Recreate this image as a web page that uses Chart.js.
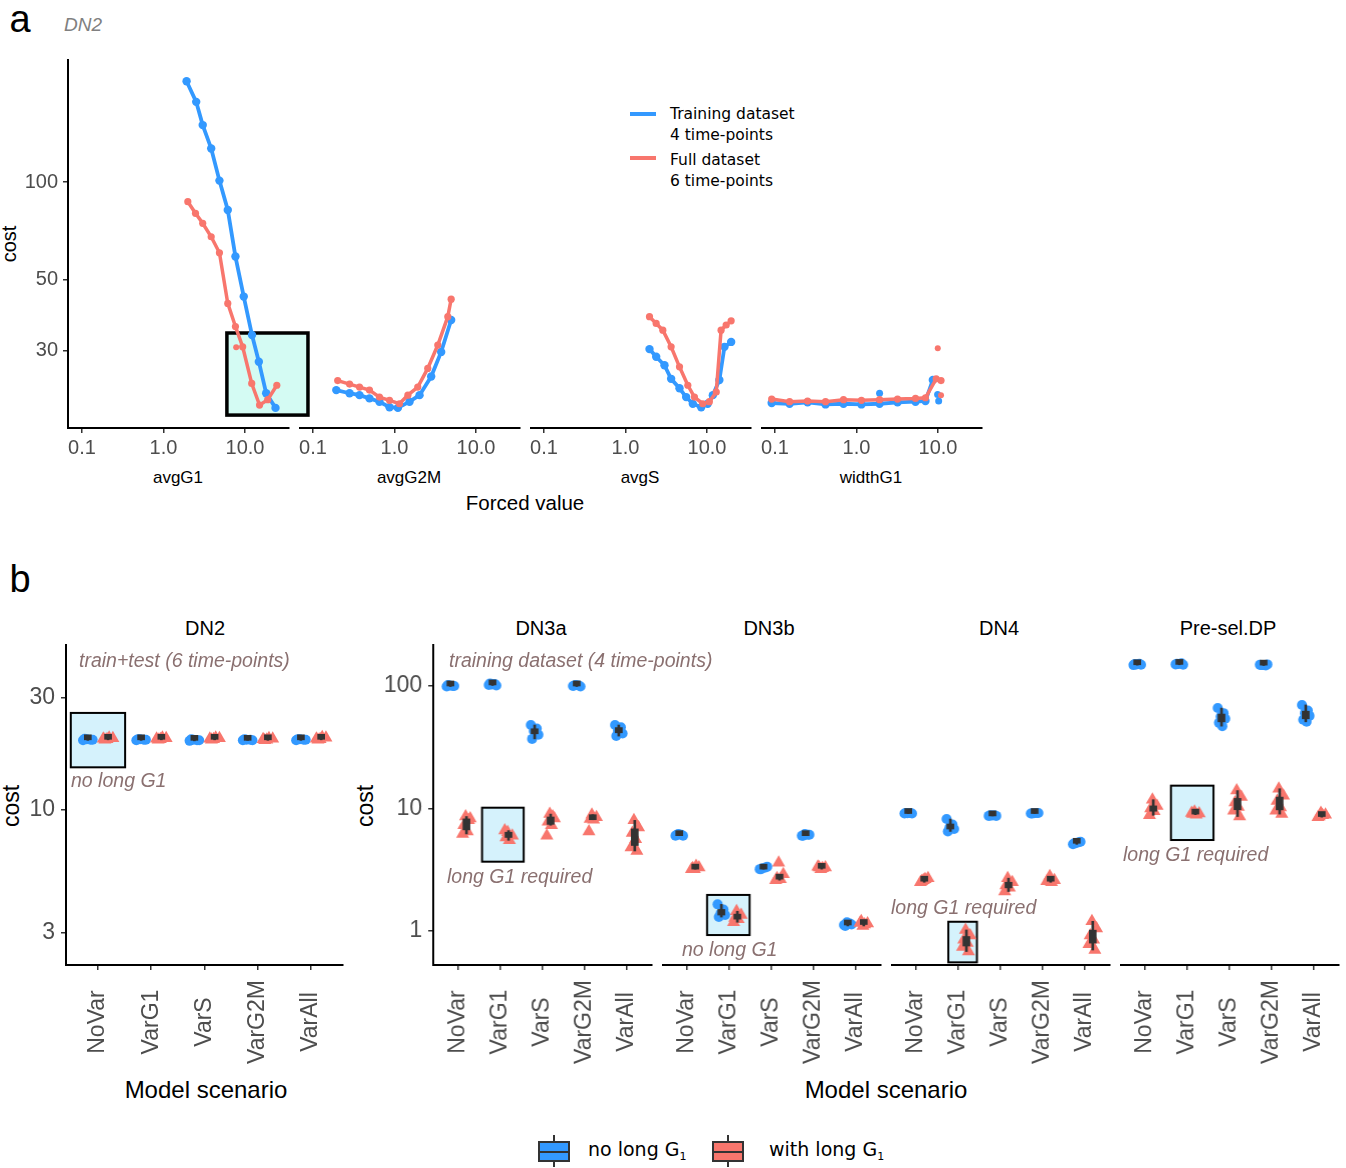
<!DOCTYPE html>
<html>
<head>
<meta charset="utf-8">
<script src="https://cdn.jsdelivr.net/npm/chart.js@4.4.1/dist/chart.umd.min.js"></script>
<style>
  html, body { margin: 0; padding: 0; background: #fff; }
  #root { position: relative; width: 1346px; height: 1168px; overflow: hidden; font-family: 'Liberation Sans', Arial, sans-serif; }
  #root canvas { position: absolute; }
  .t { position: absolute; white-space: nowrap; line-height: 1; color: #000; }
  .c { transform: translate(-50%, -50%); }
  .l { transform: translate(0, -50%); }
  .v { transform: translate(-50%, -50%) rotate(-90deg); }
  .note { font-style: italic; color: #8a7070; font-size: 19.5px; }
  .leg { font-family: 'DejaVu Sans', sans-serif; }
  .blk { position: absolute; }
</style>
</head>
<body>
<div id="root">
  <!-- panel a texts -->
  <div class="t c" style="left:20px;top:19px;font-size:38px">a</div>
  <div class="t c" style="left:83px;top:24px;font-size:19px;font-style:italic;color:#808080">DN2</div>
  <div class="t v" style="left:9px;top:244px;font-size:20px">cost</div>
  <div class="t c" style="left:178px;top:477px;font-size:17px">avgG1</div>
  <div class="t c" style="left:409px;top:477px;font-size:17px">avgG2M</div>
  <div class="t c" style="left:640px;top:477px;font-size:17px">avgS</div>
  <div class="t c" style="left:871px;top:477px;font-size:17px">widthG1</div>
  <div class="t c" style="left:525px;top:503px;font-size:20.5px">Forced value</div>

  <div class="blk" style="left:630px;top:112px;width:26px;height:4px;background:#3399ff"></div>
  <div class="blk" style="left:630px;top:156px;width:26px;height:4px;background:#f8766d"></div>
  <div class="t l leg" style="left:670px;top:115px;font-size:15.5px">Training dataset</div>
  <div class="t l leg" style="left:670px;top:136px;font-size:15.5px">4 time-points</div>
  <div class="t l leg" style="left:670px;top:161px;font-size:15.5px">Full dataset</div>
  <div class="t l leg" style="left:670px;top:182px;font-size:15.5px">6 time-points</div>

  <!-- panel b texts -->
  <div class="t c" style="left:20px;top:579px;font-size:38px">b</div>
  <div class="t c" style="left:205px;top:628px;font-size:20px">DN2</div>
  <div class="t c" style="left:541px;top:628px;font-size:20px">DN3a</div>
  <div class="t c" style="left:769px;top:628px;font-size:20px">DN3b</div>
  <div class="t c" style="left:999px;top:628px;font-size:20px">DN4</div>
  <div class="t c" style="left:1228px;top:628px;font-size:20px">Pre-sel.DP</div>
  <div class="t v" style="left:11px;top:806px;font-size:23px">cost</div>
  <div class="t v" style="left:365px;top:806px;font-size:23px">cost</div>
  <div class="t c" style="left:206px;top:1090px;font-size:24px">Model scenario</div>
  <div class="t c" style="left:886px;top:1090px;font-size:24px">Model scenario</div>

  <!-- legend b -->
  <div class="blk" style="left:553px;top:1135px;width:2px;height:32px;background:#333"></div>
  <div class="blk" style="left:538px;top:1141px;width:32px;height:21px;box-sizing:border-box;border:2.5px solid #333;background:#3399ff"></div>
  <div class="blk" style="left:538px;top:1150.5px;width:32px;height:2.5px;background:#333"></div>
  <div class="t l leg" style="left:588px;top:1151px;font-size:19px">no long G<sub style="font-size:11px">1</sub></div>
  <div class="blk" style="left:727px;top:1135px;width:2px;height:32px;background:#333"></div>
  <div class="blk" style="left:712px;top:1141px;width:32px;height:21px;box-sizing:border-box;border:2.5px solid #333;background:#f8766d"></div>
  <div class="blk" style="left:712px;top:1150.5px;width:32px;height:2.5px;background:#333"></div>
  <div class="t l leg" style="left:769px;top:1151px;font-size:19px">with long G<sub style="font-size:11px">1</sub></div>
</div>

<script>
// ---------------- panel a: cost against the forced parameter value ----------------
const xTicksA = [0.1, 1, 10];
const yTicksA = [30, 50, 100];

const avgG1TrainX = [1.92, 2.52, 3.03, 3.85, 4.86, 6.15, 7.64, 9.66, 12.2, 14.8, 18.2, 23.7];
const avgG1TrainY = [205, 177, 150, 127, 101, 81.9, 58.8, 44.2, 33.6, 27.8, 22.2, 20.0];
const avgG1FullX  = [1.99, 2.47, 3.03, 3.85, 4.86, 6.15, 7.64, 9.37, 12.1, 15.1, 19.0, 24.6];
const avgG1FullY  = [86.9, 80.0, 74.5, 67.7, 60.4, 42.1, 35.7, 30.9, 23.8, 20.4, 21.2, 23.5];
const avgG1FullExtraX = [7.8];
const avgG1FullExtraY = [30.8];

const avgG2MTrainX = [0.193, 0.281, 0.372, 0.493, 0.654, 0.869, 1.10, 1.53, 2.03, 2.82, 3.74, 4.96];
const avgG2MTrainY = [22.7, 22.2, 21.9, 21.4, 20.9, 20.1, 20.0, 20.9, 21.9, 25.0, 29.8, 37.4];
const avgG2MFullX  = [0.201, 0.281, 0.372, 0.493, 0.654, 0.869, 1.15, 1.46, 1.93, 2.56, 3.40, 4.51, 4.96];
const avgG2MFullY  = [24.3, 23.7, 23.2, 22.7, 21.6, 21.1, 20.6, 21.9, 23.2, 26.5, 31.3, 38.3, 43.4];

const avgSTrainX = [1.97, 2.38, 3.01, 3.63, 4.60, 5.55, 6.70, 8.49, 10.2, 11.8, 14.2, 16.4, 19.8];
const avgSTrainY = [30.4, 28.8, 27.1, 24.6, 23.0, 21.6, 20.6, 20.1, 20.6, 21.9, 24.4, 30.9, 32.0];
const avgSFullX  = [1.97, 2.38, 2.87, 3.63, 4.60, 5.82, 7.02, 8.88, 10.7, 13.0, 14.9, 17.2, 19.8];
const avgSFullY  = [38.3, 36.5, 34.8, 30.9, 26.8, 23.5, 21.6, 20.6, 20.9, 22.4, 34.8, 36.1, 37.2];

const widthG1TrainX = [0.091, 0.151, 0.251, 0.417, 0.693, 1.15, 1.92, 3.19, 5.30, 7.02, 8.65];
const widthG1TrainY = [20.7, 20.6, 20.8, 20.5, 20.6, 20.5, 20.6, 20.8, 20.9, 21.0, 24.4];
const widthG1TrainExtraX = [1.92, 9.9, 10.2];
const widthG1TrainExtraY = [22.2, 22.0, 21.0];
const widthG1FullX  = [0.091, 0.151, 0.251, 0.417, 0.693, 1.15, 1.92, 3.19, 5.30, 7.02, 9.5, 10.9];
const widthG1FullY  = [21.3, 20.9, 21.0, 20.9, 21.2, 21.1, 21.2, 21.3, 21.4, 21.5, 24.6, 24.3];
const widthG1FullExtraX = [9.94, 10.9];
const widthG1FullExtraY = [30.6, 21.9];

// ---------------- panel b: cost per model scenario ----------------
const scenarios = ['NoVar', 'VarG1', 'VarS', 'VarG2M', 'VarAll'];
const ticksDN2 = [3, 10, 30];
const ticksGroup = [1, 10, 100];

const dn2NoLong   = [[19.8, 19.9, 20.0, 19.9, 20.1], [19.8, 19.9, 20.0, 19.9, 20.0], [19.7, 19.8, 19.9, 19.8, 20.0], [19.8, 19.9, 19.9, 19.8, 20.0], [19.8, 19.9, 20.0, 19.9, 20.0]];
const dn2WithLong = [[20.0, 20.2, 19.9, 20.3, 20.1], [20.0, 20.2, 19.9, 20.3, 20.1], [20.0, 20.2, 19.9, 20.3, 20.1], [19.9, 20.1, 19.8, 20.2, 20.0], [20.0, 20.3, 19.9, 20.4, 20.1]];

const dn3aNoLong   = [[99, 100, 101, 100, 102], [102, 104, 103, 101, 105], [48, 45, 43, 40, 37, 44], [100, 101, 102, 99, 101], [48, 46, 43, 41, 39, 45]];
const dn3aWithLong = [[8.6, 8.3, 7.3, 6.5, 6.2, 8.0], [6.4, 6.0, 5.8, 5.5, 6.6], [9.0, 8.3, 7.8, 7.3, 6.0, 8.6], [8.9, 8.5, 8.2, 8.1, 6.5], [8.0, 7.0, 6.3, 5.6, 4.8, 4.5]];

const dn3bNoLong   = [[6.0, 6.1, 6.2, 6.0, 6.1], [1.65, 1.5, 1.38, 1.35, 1.3], [3.2, 3.3, 3.25, 3.35, 3.2], [6.0, 6.1, 6.2, 6.1, 6.0], [1.12, 1.15, 1.18, 1.13, 1.1]];
const dn3bWithLong = [[3.2, 3.3, 3.25, 3.4, 3.2], [1.45, 1.35, 1.28, 1.25, 1.18], [3.6, 2.9, 2.7, 2.65, 2.6], [3.2, 3.3, 3.3, 3.25, 3.35], [1.1, 1.15, 1.2, 1.13, 1.16]];

const dn4NoLong   = [[9.1, 9.2, 9.15, 9.1, 9.2], [8.2, 7.4, 7.0, 6.8, 6.5], [8.7, 8.8, 8.75, 8.7, 8.8], [9.1, 9.2, 9.15, 9.2, 9.1], [5.1, 5.3, 5.2, 5.35, 5.2]];
const dn4WithLong = [[2.6, 2.7, 2.55, 2.65, 2.5], [1.02, 0.92, 0.85, 0.8, 0.74, 0.68], [2.7, 2.5, 2.35, 2.25, 2.1], [2.8, 2.6, 2.55, 2.5, 2.55], [1.2, 1.05, 0.92, 0.85, 0.78, 0.7]];

const preselNoLong   = [[148, 152, 150, 149, 151], [150, 153, 151, 149, 152], [66, 60, 56, 54, 50, 47], [149, 147, 148, 150, 148], [70, 63, 60, 57, 53, 51]];
const preselWithLong = [[11.8, 10.5, 10.0, 9.5, 8.8], [9.4, 9.1, 9.0, 8.9, 9.2], [14, 12.4, 11.2, 10.3, 9.6, 8.6], [14.5, 12.7, 11.5, 10.2, 9.6, 9.0], [9.2, 8.9, 8.6, 8.8, 8.5]];

// ---------------- drawing ----------------
const FONT = "'Liberation Sans', Arial, sans-serif";
const BLUE = '#3399ff';
const RED = '#f8766d';
const TICK_GREY = '#4d4d4d';
const DODGE = 0.19;                                 // half distance between the two groups
const JITTER = [-0.09, 0.05, -0.02, 0.09, -0.06, 0.02]; // horizontal spread of replicate points

const root = document.getElementById('root');

function xy(xs, ys) { return xs.map((x, i) => ({ x: x, y: ys[i] })); }

function placeCanvas(o) {
  const left = o.plotL - o.yw;
  const top = o.plotT - o.padT;
  const w = o.yw + o.plotW + o.padR;
  const h = o.padT + o.plotH + o.xh;
  const c = document.createElement('canvas');
  c.width = w; c.height = h;
  c.style.left = left + 'px'; c.style.top = top + 'px';
  c.style.width = w + 'px'; c.style.height = h + 'px';
  root.appendChild(c);
  return { canvas: c, top: top };
}

// shaded rectangle drawn behind the data, given in data units
function highlightPlugin(box) {
  return {
    id: 'highlight',
    beforeDatasetsDraw(chart) {
      if (!box) return;
      const xs = chart.scales.x, ys = chart.scales.y;
      const x0 = xs.getPixelForValue(box.x0), x1 = xs.getPixelForValue(box.x1);
      const y0 = ys.getPixelForValue(box.y1), y1 = ys.getPixelForValue(box.y0);
      const ctx = chart.ctx;
      ctx.save();
      ctx.fillStyle = box.fill;
      ctx.fillRect(x0, y0, x1 - x0, y1 - y0);
      ctx.lineWidth = box.lw;
      ctx.strokeStyle = '#000';
      ctx.strokeRect(x0, y0, x1 - x0, y1 - y0);
      ctx.restore();
    }
  };
}

function axisStyle(fontSize, pad) {
  return {
    border: { display: true, color: '#000', width: 2 },
    grid: { display: true, offset: false, drawOnChartArea: false, drawTicks: true, tickLength: 5, color: '#333', lineWidth: 1.5 },
    ticks: { color: TICK_GREY, font: { family: FONT, size: fontSize }, padding: pad }
  };
}

// ---- panel a facets ----
const facetsA = [
  { plotL: 68,  yw: 68, train: xy(avgG1TrainX, avgG1TrainY), full: xy(avgG1FullX, avgG1FullY),
    trainExtra: [], fullExtra: xy(avgG1FullExtraX, avgG1FullExtraY),
    box: { x0: 6.0, x1: 59.3, y0: 19.0, y1: 34.1, fill: '#d4fbf3', lw: 3.5 }, padR: 30 },
  { plotL: 299, yw: 0, train: xy(avgG2MTrainX, avgG2MTrainY), full: xy(avgG2MFullX, avgG2MFullY),
    trainExtra: [], fullExtra: [], box: null, padR: 5 },
  { plotL: 530, yw: 0, train: xy(avgSTrainX, avgSTrainY), full: xy(avgSFullX, avgSFullY),
    trainExtra: [], fullExtra: [], box: null, padR: 5 },
  { plotL: 761, yw: 0, train: xy(widthG1TrainX, widthG1TrainY), full: xy(widthG1FullX, widthG1FullY),
    trainExtra: xy(widthG1TrainExtraX, widthG1TrainExtraY), fullExtra: xy(widthG1FullExtraX, widthG1FullExtraY),
    box: null, padR: 5 }
];

facetsA.forEach(f => {
  const geo = { plotL: f.plotL, plotT: 60, plotW: 221, plotH: 368, yw: f.yw, xh: 44, padR: f.padR, padT: 20 };
  const { canvas } = placeCanvas(geo);
  const xAx = axisStyle(20, 3);
  const yAx = axisStyle(20, 5);
  new Chart(canvas, {
    type: 'scatter',
    data: {
      datasets: [
        { data: f.fullExtra, pointRadius: 3, backgroundColor: RED, borderWidth: 0, showLine: false },
        { data: f.full, showLine: true, borderColor: RED, borderWidth: 3.5, pointRadius: 3.6,
          backgroundColor: RED, pointBorderWidth: 0, tension: 0 },
        { data: f.trainExtra, pointRadius: 3.5, backgroundColor: BLUE, borderWidth: 0, showLine: false },
        { data: f.train, showLine: true, borderColor: BLUE, borderWidth: 3.8, pointRadius: 4.2,
          backgroundColor: BLUE, pointBorderWidth: 0, tension: 0 }
      ]
    },
    options: {
      responsive: false, animation: false, devicePixelRatio: 1,
      layout: { padding: { left: 0, top: geo.padT, right: geo.padR, bottom: 0 }, autoPadding: false },
      plugins: { legend: { display: false }, tooltip: { enabled: false } },
      scales: {
        x: {
          type: 'logarithmic', min: 0.0673, max: 34.7, position: 'bottom',
          border: xAx.border, grid: xAx.grid,
          ticks: Object.assign({}, xAx.ticks, { maxRotation: 0, autoSkip: false,
            callback: v => (v < 1 ? v.toString() : v.toFixed(1)) }),
          afterBuildTicks: s => { s.ticks = xTicksA.map(v => ({ value: v })); },
          afterFit: s => { s.height = geo.xh; s.paddingLeft = 0; s.paddingRight = 0; }
        },
        y: {
          type: 'logarithmic', min: 17.33, max: 238.5, display: f.yw > 0,
          border: yAx.border, grid: yAx.grid,
          ticks: Object.assign({}, yAx.ticks, { callback: v => v.toString() }),
          afterBuildTicks: s => { s.ticks = yTicksA.map(v => ({ value: v })); },
          afterFit: s => { s.width = geo.yw; s.paddingTop = 0; s.paddingBottom = 0; }
        }
      }
    },
    plugins: [highlightPlugin(f.box)]
  });
});

// ---- panel b facets ----
function quantile(sorted, p) {
  const h = (sorted.length - 1) * p;
  const lo = Math.floor(h);
  const hi = Math.min(lo + 1, sorted.length - 1);
  return sorted[lo] + (h - lo) * (sorted[hi] - sorted[lo]);
}
// box statistics computed on the log scale, as the axis is logarithmic
function boxStats(vals) {
  const s = vals.map(v => Math.log10(v)).sort((a, b) => a - b);
  const q1 = quantile(s, 0.25), q3 = quantile(s, 0.75), iqr = q3 - q1;
  const inside = s.filter(v => v >= q1 - 1.5 * iqr && v <= q3 + 1.5 * iqr);
  const p = v => Math.pow(10, v);
  return { q1: p(q1), q3: p(q3), lo: p(inside[0]), hi: p(inside[inside.length - 1]) };
}

function scenarioLabelsPlugin(labelY) {
  return {
    id: 'scenarioLabels',
    afterDraw(chart) {
      const xs = chart.scales.x, ctx = chart.ctx;
      ctx.save();
      ctx.fillStyle = TICK_GREY;
      ctx.font = '23px ' + FONT;
      ctx.textAlign = 'center';
      ctx.textBaseline = 'middle';
      scenarios.forEach((name, i) => {
        ctx.save();
        ctx.translate(xs.getPixelForValue(i), labelY);
        ctx.rotate(-Math.PI / 2);
        ctx.fillText(name, 0, 0);
        ctx.restore();
      });
      ctx.restore();
    }
  };
}

function scenarioChart(f) {
  const geo = { plotL: f.plotL, plotT: 645, plotW: f.plotW, plotH: 320, yw: f.yw, xh: 115, padR: 4, padT: 20 };
  const { canvas, top } = placeCanvas(geo);
  const blue = [], red = [], boxes = [], whiskers = [];
  scenarios.forEach((name, i) => {
    f.noLong[i].forEach((v, k) => blue.push({ x: i - DODGE + JITTER[k % JITTER.length], y: v }));
    f.withLong[i].forEach((v, k) => red.push({ x: i + DODGE + JITTER[(k + 2) % JITTER.length], y: v }));
    const sb = boxStats(f.noLong[i]), sr = boxStats(f.withLong[i]);
    boxes.push({ x: i - DODGE, y: [sb.q1, sb.q3] }, { x: i + DODGE, y: [sr.q1, sr.q3] });
    whiskers.push({ x: i - DODGE, y: [sb.lo, sb.hi] }, { x: i + DODGE, y: [sr.lo, sr.hi] });
  });
  const xAx = axisStyle(23, 3);
  const yAx = axisStyle(23, 6);
  new Chart(canvas, {
    type: 'scatter',
    data: {
      datasets: [
        { type: 'bar', data: boxes, backgroundColor: '#333', barThickness: 7, grouped: false, minBarLength: 5 },
        { type: 'bar', data: whiskers, backgroundColor: '#333', barThickness: 2, grouped: false },
        { data: red, pointStyle: 'triangle', pointRadius: 7.5, backgroundColor: RED, borderWidth: 0 },
        { data: blue, pointStyle: 'circle', pointRadius: 5, backgroundColor: BLUE, borderWidth: 0 }
      ]
    },
    options: {
      responsive: false, animation: false, devicePixelRatio: 1,
      layout: { padding: { left: 0, top: geo.padT, right: geo.padR, bottom: 0 }, autoPadding: false },
      plugins: { legend: { display: false }, tooltip: { enabled: false } },
      scales: {
        x: {
          type: 'linear', min: -0.6, max: 4.6, offset: false, position: 'bottom',
          border: xAx.border, grid: xAx.grid,
          ticks: { display: false },
          afterBuildTicks: s => { s.ticks = scenarios.map((n, i) => ({ value: i })); },
          afterFit: s => { s.height = geo.xh; s.paddingLeft = 0; s.paddingRight = 0; }
        },
        y: {
          type: 'logarithmic', min: f.ymin, max: f.ymax, display: f.yw > 0,
          border: yAx.border, grid: yAx.grid,
          ticks: Object.assign({}, yAx.ticks, { callback: v => v.toString() }),
          afterBuildTicks: s => { s.ticks = f.ticks.map(v => ({ value: v })); },
          afterFit: s => { s.width = geo.yw; s.paddingTop = 0; s.paddingBottom = 0; }
        }
      }
    },
    plugins: [highlightPlugin(f.box), scenarioLabelsPlugin(1022 - top)]
  });
}

const CYAN = '#d5f2fc';
scenarioChart({ plotL: 66, plotW: 277, yw: 66, ymin: 2.19, ymax: 50.4, ticks: ticksDN2,
  noLong: dn2NoLong, withLong: dn2WithLong,
  box: { x0: -0.51, x1: 0.51, y0: 15.2, y1: 25.9, fill: CYAN, lw: 2 } });
scenarioChart({ plotL: 433, plotW: 218.5, yw: 60, ymin: 0.528, ymax: 216, ticks: ticksGroup,
  noLong: dn3aNoLong, withLong: dn3aWithLong,
  box: { x0: 0.56, x1: 1.55, y0: 3.68, y1: 10.15, fill: CYAN, lw: 2 } });
scenarioChart({ plotL: 662, plotW: 218.5, yw: 0, ymin: 0.528, ymax: 216, ticks: ticksGroup,
  noLong: dn3bNoLong, withLong: dn3bWithLong,
  box: { x0: 0.47, x1: 1.48, y0: 0.927, y1: 1.97, fill: CYAN, lw: 2 } });
scenarioChart({ plotL: 891, plotW: 218.5, yw: 0, ymin: 0.528, ymax: 216, ticks: ticksGroup,
  noLong: dn4NoLong, withLong: dn4WithLong,
  box: { x0: 0.76, x1: 1.44, y0: 0.555, y1: 1.19, fill: CYAN, lw: 2 } });
scenarioChart({ plotL: 1120, plotW: 218.5, yw: 0, ymin: 0.528, ymax: 216, ticks: ticksGroup,
  noLong: preselNoLong, withLong: preselWithLong,
  box: { x0: 0.61, x1: 1.62, y0: 5.53, y1: 15.36, fill: CYAN, lw: 2 } });

// annotation texts over the panels
[
  ['train+test (6 time-points)', 79, 661],
  ['no long G1', 71, 781],
  ['training dataset (4 time-points)', 449, 661],
  ['long G1 required', 447, 877],
  ['no long G1', 682, 950],
  ['long G1 required', 891, 908],
  ['long G1 required', 1123, 855]
].forEach(([txt, x, y]) => {
  const d = document.createElement('div');
  d.className = 't l note';
  d.style.left = x + 'px';
  d.style.top = y + 'px';
  d.textContent = txt;
  root.appendChild(d);
});
</script>
</body>
</html>
